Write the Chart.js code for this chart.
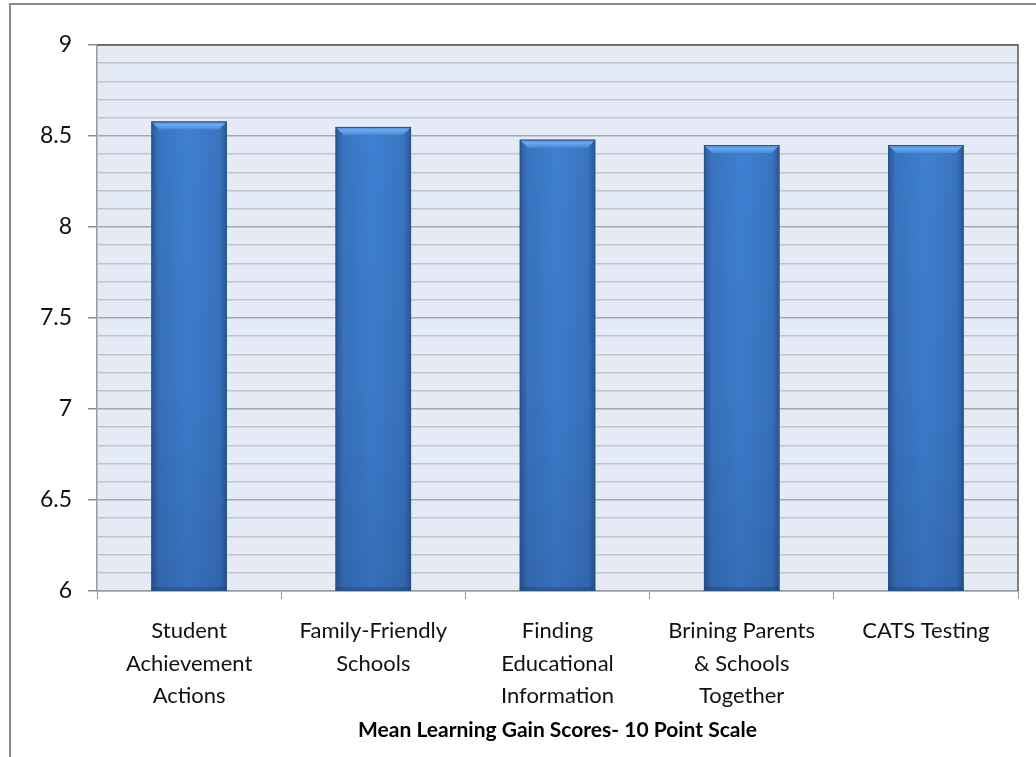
<!DOCTYPE html>
<html>
<head>
<meta charset="utf-8">
<script src="https://cdn.jsdelivr.net/npm/chart.js@4.4.1/dist/chart.umd.min.js"></script>
<style>
  html, body { margin: 0; padding: 0; background: #fff; }
  #frame { position: absolute; left: 9px; top: 3px; width: 1100px; height: 800px;
           border-left: 2px solid #8c8c8c; border-top: 2px solid #8c8c8c; }
  #wrap { position: absolute; left: 0; top: 0; width: 1036px; height: 757px; }
</style>
</head>
<body>
<div id="frame"></div>
<div id="wrap"><canvas id="chart"></canvas></div>
<script>
const categories = [
  ["Student", "Achievement", "Actions"],
  ["Family-Friendly", "Schools"],
  ["Finding", "Educational", "Information"],
  ["Brining Parents", "& Schools", "Together"],
  ["CATS Testing"]
];
const scores = [8.58, 8.55, 8.48, 8.45, 8.45];
const yMin = 6;
const yMax = 9;
const yStep = 0.1;
const axisTitle = "Mean Learning Gain Scores- 10 Point Scale";

const isMajor = (v) => Math.abs(v * 2 - Math.round(v * 2)) < 1e-6;

// plot background and dark top/right border
const plotBox = {
  id: "plotBox",
  beforeDraw(chart) {
    const { ctx, chartArea: a } = chart;
    ctx.save();
    ctx.fillStyle = "#e4ebf6";
    ctx.fillRect(a.left, a.top, a.right - a.left, a.bottom - a.top);
    ctx.restore();
  },
  afterDraw(chart) {
    const { ctx, chartArea: a } = chart;
    ctx.save();
    ctx.strokeStyle = "#5a5a5a";
    ctx.lineWidth = 1.5;
    ctx.beginPath();
    ctx.moveTo(a.left, a.top);
    ctx.lineTo(a.right, a.top);
    ctx.lineTo(a.right, a.bottom);
    ctx.stroke();
    ctx.restore();
  }
};

// bevelled bar look
const barLook = {
  id: "barLook",
  beforeDatasetsDraw(chart) {
    const { ctx } = chart;
    chart.getDatasetMeta(0).data.forEach((el) => {
      const p = el.getProps(["x", "width"], true);
      const g = ctx.createLinearGradient(p.x - p.width / 2, 0, p.x + p.width / 2, 0);
      g.addColorStop(0, "#2a5896");
      g.addColorStop(0.1, "#3a74c0");
      g.addColorStop(0.5, "#3f80d2");
      g.addColorStop(0.9, "#3a74c0");
      g.addColorStop(1, "#2a5896");
      el.options.backgroundColor = g;
    });
  },
  afterDatasetsDraw(chart) {
    const { ctx, chartArea: a } = chart;
    chart.getDatasetMeta(0).data.forEach((el) => {
      const p = el.getProps(["x", "y", "base", "width"], true);
      const bottom = Math.min(p.base, a.bottom);
      const l = p.x - p.width / 2, r = p.x + p.width / 2;
      const h = bottom - p.y;
      ctx.save();
      // darken toward bottom
      const v = ctx.createLinearGradient(0, p.y, 0, bottom);
      v.addColorStop(0, "rgba(20,50,100,0)");
      v.addColorStop(0.6, "rgba(20,50,100,0.08)");
      v.addColorStop(1, "rgba(20,50,100,0.22)");
      ctx.fillStyle = v;
      ctx.fillRect(l, p.y, p.width, h);
      // top bevel
      const bv = 8;
      ctx.beginPath();
      ctx.moveTo(l, p.y);
      ctx.lineTo(r, p.y);
      ctx.lineTo(r - bv, p.y + bv);
      ctx.lineTo(l + bv, p.y + bv);
      ctx.closePath();
      const tg = ctx.createLinearGradient(0, p.y, 0, p.y + bv);
      tg.addColorStop(0, "#4a8ad8");
      tg.addColorStop(0.4, "#6aaaf0");
      tg.addColorStop(1, "#4a88d6");
      ctx.fillStyle = tg;
      ctx.fill();
      // bottom bevel shade
      ctx.fillStyle = "rgba(25,55,100,0.35)";
      ctx.fillRect(l, bottom - 4, p.width, 4);
      // outline
      ctx.strokeStyle = "#2a5286";
      ctx.lineWidth = 1;
      ctx.strokeRect(l + 0.5, p.y + 0.5, p.width - 1, h - 1);
      ctx.restore();
    });
  }
};

new Chart(document.getElementById("chart"), {
  type: "bar",
  data: {
    labels: categories,
    datasets: [{
      data: scores,
      backgroundColor: () => "#3b78c6",
      borderWidth: 0,
      categoryPercentage: 1,
      barPercentage: 0.41
    }]
  },
  options: {
    responsive: true,
    maintainAspectRatio: false,
    animation: false,
    layout: { padding: { left: 0, top: 45, right: 18, bottom: 0 } },
    plugins: { legend: { display: false }, tooltip: { enabled: false } },
    scales: {
      y: {
        min: yMin,
        max: yMax,
        afterFit: (s) => { s.width = 97; },
        ticks: {
          stepSize: yStep,
          autoSkip: false,
          padding: 16,
          color: "#111",
          font: { family: "Lato", size: 23 },
          callback: (v) => isMajor(v) ? String(Math.round(v * 10) / 10) : ""
        },
        grid: {
          tickLength: 9,
          color: (c) => isMajor(c.tick.value) ? "#a8a8a8" : "#c4c4c4",
          tickColor: (c) => isMajor(c.tick.value) ? "#8c8c8c" : "rgba(0,0,0,0)",
          lineWidth: 1.5
        },
        border: { color: "#999", width: 1.5 }
      },
      x: {
        afterFit: (s) => { s.height = 166; },
        ticks: {
          padding: 16,
          color: "#111",
          maxRotation: 0,
          font: { family: "Lato", size: 22, lineHeight: 1.47 }
        },
        grid: {
          offset: true,
          drawOnChartArea: false,
          tickLength: 8,
          tickColor: "#999"
        },
        border: { color: "#999", width: 1.5 },
        title: {
          display: true,
          text: axisTitle,
          color: "#000",
          font: { family: "Lato", size: 21, weight: "bold" },
          padding: { top: 0, bottom: 14 }
        }
      }
    }
  },
  plugins: [plotBox, barLook]
});
</script>
</body>
</html>
